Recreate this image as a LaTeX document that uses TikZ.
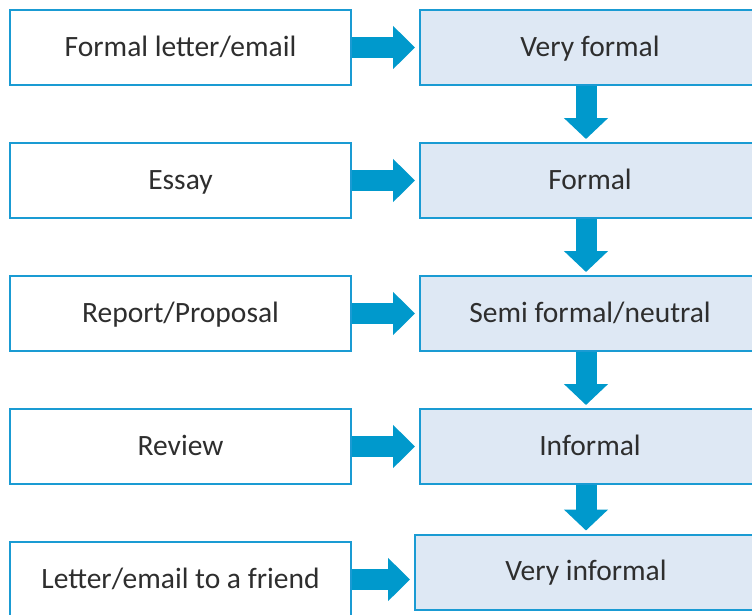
\documentclass[tikz,border=0pt]{standalone}
\usepackage{fontspec}
\setmainfont{Carlito}
\usetikzlibrary{arrows.meta}
\definecolor{bord}{HTML}{1A9BD3}
\definecolor{arr}{HTML}{0099CC}
\definecolor{lfill}{HTML}{DEE8F4}
\definecolor{txt}{HTML}{2E2E2E}
\begin{document}
\begin{tikzpicture}[x=1pt,y=-1pt,
  lbox/.style={draw=bord, line width=2pt, fill=white, rectangle, inner sep=0pt,
    minimum width=341pt, minimum height=75pt, text=txt, font=\fontsize{29.5}{34}\selectfont,
    text height=20.5pt, text depth=3pt},
  rbox/.style={lbox, fill=lfill, minimum width=340pt},
  harrow/.style={arr, line width=21pt, -{Triangle[width=42pt,length=22pt]}, shorten >=4pt},
  varrow/.style={arr, line width=21pt, -{Triangle[width=43pt,length=21pt]}, shorten >=3pt}]
\useasboundingbox (0,0) rectangle (752,614);
\clip (0,0) rectangle (752,614);
\fill[white] (0,0) rectangle (752,614);
% left boxes
\node[lbox] (L1) at (180.5,47.5) {Formal letter/email};
\node[lbox] (L2) at (180.5,180.5) {Essay};
\node[lbox] (L3) at (180.5,313.5) {Report/Proposal};
\node[lbox] (L4) at (180.5,446.5) {Review};
\node[lbox] (L5) at (180.5,579.5) {Letter/email to a friend};
% right boxes
\node[rbox] (R1) at (590,47.5) {Very formal};
\node[rbox] (R2) at (590,180.5) {Formal};
\node[rbox] (R3) at (590,313.5) {Semi formal/neutral};
\node[rbox] (R4) at (590,446.5) {Informal};
\node[rbox, minimum width=342pt] (R5) at (586,572) {Very informal};
% horizontal arrows
\draw[harrow] (L1.east) -- (R1.west |- L1.east);
\draw[harrow] (L2.east) -- (R2.west |- L2.east);
\draw[harrow] (L3.east) -- (R3.west |- L3.east);
\draw[harrow] (L4.east) -- (R4.west |- L4.east);
\draw[harrow] (L5.east) -- (R5.west |- L5.east);
% vertical arrows
\coordinate (ax) at (586,0);
\draw[varrow] (ax |- R1.south) -- (ax |- R2.north);
\draw[varrow] (ax |- R2.south) -- (ax |- R3.north);
\draw[varrow] (ax |- R3.south) -- (ax |- R4.north);
\draw[varrow] (ax |- R4.south) -- (ax |- R5.north);
\end{tikzpicture}
\end{document}
